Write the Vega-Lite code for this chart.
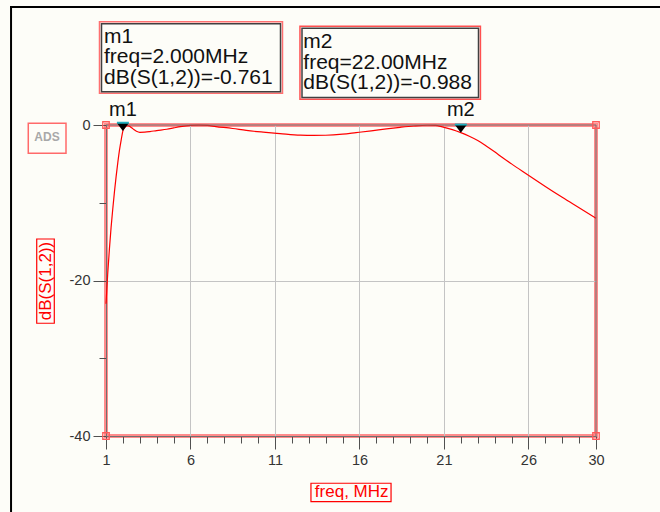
{
  "$schema": "https://vega.github.io/schema/vega-lite/v6.json",
  "width": 490,
  "height": 311,
  "autosize": "none",
  "padding": {"left": 106, "top": 125, "right": 64, "bottom": 76},
  "background": "#fdfdf8",
  "config": {
    "view": {"stroke": "#ff8c8c", "strokeWidth": 4},
    "font": "Liberation Sans",
    "text": {"font": "Liberation Sans"}
  },
  "data": {"values": [{}]},
  "datasets": {
    "curve": [
      {"freq": 1.0, "db": -23.0},
      {"freq": 1.1, "db": -19.2},
      {"freq": 1.2, "db": -16.0},
      {"freq": 1.3, "db": -13.2},
      {"freq": 1.4, "db": -10.8},
      {"freq": 1.5, "db": -8.6},
      {"freq": 1.6, "db": -6.6},
      {"freq": 1.7, "db": -4.8},
      {"freq": 1.8, "db": -3.2},
      {"freq": 1.9, "db": -1.9},
      {"freq": 2.0, "db": -0.761},
      {"freq": 2.1, "db": -0.33},
      {"freq": 2.2, "db": -0.12},
      {"freq": 2.3, "db": -0.08},
      {"freq": 2.45, "db": -0.25},
      {"freq": 2.6, "db": -0.5},
      {"freq": 2.8, "db": -0.8},
      {"freq": 3.0, "db": -0.94},
      {"freq": 3.3, "db": -0.92},
      {"freq": 3.6, "db": -0.85},
      {"freq": 4.0, "db": -0.72},
      {"freq": 4.6, "db": -0.55},
      {"freq": 5.0, "db": -0.38},
      {"freq": 5.4, "db": -0.21},
      {"freq": 6.0, "db": -0.05},
      {"freq": 6.5, "db": -0.02},
      {"freq": 7.0, "db": -0.06},
      {"freq": 7.5, "db": -0.2},
      {"freq": 8.5, "db": -0.45},
      {"freq": 9.3, "db": -0.7},
      {"freq": 10.3, "db": -0.92},
      {"freq": 11.3, "db": -1.1},
      {"freq": 12.5, "db": -1.3},
      {"freq": 13.3, "db": -1.34},
      {"freq": 14.0, "db": -1.32},
      {"freq": 15.0, "db": -1.18},
      {"freq": 15.8, "db": -0.98},
      {"freq": 16.7, "db": -0.75},
      {"freq": 17.6, "db": -0.5},
      {"freq": 18.4, "db": -0.3},
      {"freq": 19.2, "db": -0.13},
      {"freq": 20.0, "db": -0.03},
      {"freq": 20.5, "db": -0.06},
      {"freq": 20.9, "db": -0.25},
      {"freq": 21.5, "db": -0.6},
      {"freq": 22.0, "db": -0.988},
      {"freq": 22.5, "db": -1.45},
      {"freq": 23.0, "db": -2.0},
      {"freq": 23.5, "db": -2.7},
      {"freq": 24.0, "db": -3.45},
      {"freq": 24.5, "db": -4.25},
      {"freq": 25.0, "db": -5.0},
      {"freq": 26.0, "db": -6.45},
      {"freq": 27.0, "db": -7.9},
      {"freq": 28.0, "db": -9.3},
      {"freq": 29.0, "db": -10.65},
      {"freq": 30.0, "db": -12.0}
    ],
    "markers": [
      {"name": "m1", "freq": 2.0, "db": -0.761},
      {"name": "m2", "freq": 22.0, "db": -0.988}
    ],
    "corners": [
      {"freq": 1, "db": 0},
      {"freq": 30, "db": 0},
      {"freq": 1, "db": -40},
      {"freq": 30, "db": -40}
    ]
  },
  "resolve": {"axis": {"x": "independent", "y": "independent"}},
  "layer": [
    {
      "data": {"name": "curve"},
      "mark": {"type": "line", "color": "#ff0000", "strokeWidth": 1.2, "interpolate": "monotone"},
      "encoding": {
        "x": {
          "field": "freq", "type": "quantitative",
          "scale": {"domain": [1, 30], "nice": false, "zero": false},
          "axis": {
            "title": null,
            "orient": "bottom",
            "values": [1,2,3,4,5,6,7,8,9,10,11,12,13,14,15,16,17,18,19,20,21,22,23,24,25,26,27,28,29,30],
            "labelExpr": "(datum.value - 1) % 5 === 0 || datum.value === 30 ? '' + datum.value : ''",
            "tickSize": {"condition": {"test": "(datum.value - 1) % 5 === 0 || datum.value === 30", "value": 13}, "value": 7},
            "grid": true,
            "gridColor": "#c4c4c4",
            "gridOpacity": {"condition": {"test": "(datum.value - 1) % 5 === 0 && datum.value > 1 && datum.value < 30", "value": 1}, "value": 0},
            "domainColor": "#707070",
            "tickColor": "#505050",
            "labelFontSize": 14.5,
            "labelColor": "#333333",
            "labelPadding": 4,
            "labelFlush": false,
            "labelOverlap": false
          }
        },
        "y": {
          "field": "db", "type": "quantitative",
          "scale": {"domain": [-40, 0], "nice": false, "zero": false},
          "axis": {
            "title": null,
            "orient": "left",
            "values": [-40, -30, -20, -10, 0],
            "labelExpr": "datum.value % 20 === 0 ? '' + datum.value : ''",
            "tickSize": {"condition": {"test": "datum.value % 20 === 0", "value": 13}, "value": 7},
            "grid": true,
            "gridColor": "#c4c4c4",
            "gridOpacity": {"condition": {"test": "datum.value === -20", "value": 1}, "value": 0},
            "domainColor": "#707070",
            "tickColor": "#505050",
            "labelFontSize": 14.5,
            "labelColor": "#333333",
            "labelPadding": 3,
            "labelFlush": false,
            "labelOverlap": false
          }
        }
      }
    },
    {
      "mark": {"type": "rule", "color": "#707070", "strokeWidth": 1},
      "encoding": {
        "x": {"datum": 30, "type": "quantitative", "axis": null},
        "y": {"datum": -40, "type": "quantitative", "axis": null},
        "y2": {"datum": 0}
      }
    },
    {
      "mark": {"type": "rule", "color": "#707070", "strokeWidth": 1},
      "encoding": {
        "x": {"datum": 1, "type": "quantitative", "axis": null},
        "x2": {"datum": 30},
        "y": {"datum": 0, "type": "quantitative", "axis": null}
      }
    },
    {
      "data": {"name": "corners"},
      "mark": {"type": "point", "shape": "square", "size": 42, "filled": false, "stroke": "#ff5a5a", "strokeWidth": 1.3, "opacity": 1},
      "encoding": {
        "x": {"field": "freq", "type": "quantitative", "axis": null},
        "y": {"field": "db", "type": "quantitative", "axis": null}
      }
    },
    {
      "mark": {"type": "rule", "color": "#000000", "strokeWidth": 2},
      "encoding": {
        "x": {"datum": -4.68, "type": "quantitative", "axis": null},
        "x2": {"datum": 34},
        "y": {"datum": 15.18, "type": "quantitative", "axis": null}
      }
    },
    {
      "mark": {"type": "rule", "color": "#000000", "strokeWidth": 2},
      "encoding": {
        "x": {"datum": -4.62, "type": "quantitative", "axis": null},
        "y": {"datum": 15.3, "type": "quantitative", "axis": null},
        "y2": {"datum": -51}
      }
    },
    {
      "mark": {"type": "rect", "fill": null, "fillOpacity": 0, "stroke": "#ff6a6a", "strokeWidth": 1.5},
      "encoding": {
        "x": {"datum": -3.6, "type": "quantitative", "axis": null},
        "x2": {"datum": -1.367},
        "y": {"datum": 0.22, "type": "quantitative", "axis": null},
        "y2": {"datum": -3.64}
      }
    },
    {
      "mark": {"type": "text", "text": "ADS", "fontSize": 12, "fontWeight": "bold", "color": "#a8a8a8", "align": "center", "baseline": "middle"},
      "encoding": {
        "x": {"datum": -2.49, "type": "quantitative", "axis": null},
        "y": {"datum": -1.54, "type": "quantitative", "axis": null}
      }
    },
    {
      "mark": {"type": "rect", "fill": null, "fillOpacity": 0, "stroke": "#ff0000", "strokeWidth": 1.2},
      "encoding": {
        "x": {"datum": -3.1, "type": "quantitative", "axis": null},
        "x2": {"datum": -2.06},
        "y": {"datum": -14.66, "type": "quantitative", "axis": null},
        "y2": {"datum": -25.5}
      }
    },
    {
      "mark": {"type": "text", "text": "dB(S(1,2))", "fontSize": 17, "color": "#ff0000", "angle": 270, "align": "center", "baseline": "middle"},
      "encoding": {
        "x": {"datum": -2.58, "type": "quantitative", "axis": null},
        "y": {"datum": -20.06, "type": "quantitative", "axis": null}
      }
    },
    {
      "mark": {"type": "rect", "fill": null, "fillOpacity": 0, "stroke": "#ff0000", "strokeWidth": 1.2},
      "encoding": {
        "x": {"datum": 13.13, "type": "quantitative", "axis": null},
        "x2": {"datum": 17.87},
        "y": {"datum": -46.08, "type": "quantitative", "axis": null},
        "y2": {"datum": -48.45}
      }
    },
    {
      "mark": {"type": "text", "text": "freq, MHz", "fontSize": 17, "color": "#ff0000", "align": "center", "baseline": "middle"},
      "encoding": {
        "x": {"datum": 15.54, "type": "quantitative", "axis": null},
        "y": {"datum": -47.16, "type": "quantitative", "axis": null}
      }
    },
    {
      "mark": {"type": "rect", "fill": null, "fillOpacity": 0, "stroke": "#ff7070", "strokeWidth": 1.5},
      "encoding": {
        "x": {"datum": 0.615, "type": "quantitative", "axis": null},
        "x2": {"datum": 11.446},
        "y": {"datum": 13.27, "type": "quantitative", "axis": null},
        "y2": {"datum": 4.08}
      }
    },
    {
      "mark": {"type": "rect", "fill": null, "fillOpacity": 0, "stroke": "#404040", "strokeWidth": 1.5},
      "encoding": {
        "x": {"datum": 0.734, "type": "quantitative", "axis": null},
        "x2": {"datum": 11.328},
        "y": {"datum": 13.02, "type": "quantitative", "axis": null},
        "y2": {"datum": 4.28}
      }
    },
    {
      "mark": {"type": "text", "text": ["m1", "freq=2.000MHz", "dB(S(1,2))=-0.761"], "fontSize": 21, "lineHeight": 20.8, "color": "#111111", "align": "left", "baseline": "middle"},
      "encoding": {
        "x": {"datum": 0.882, "type": "quantitative", "axis": null},
        "y": {"datum": 11.36, "type": "quantitative", "axis": null}
      }
    },
    {
      "mark": {"type": "rect", "fill": null, "fillOpacity": 0, "stroke": "#ff5050", "strokeWidth": 1.5},
      "encoding": {
        "x": {"datum": 12.48, "type": "quantitative", "axis": null},
        "x2": {"datum": 23.16},
        "y": {"datum": 12.71, "type": "quantitative", "axis": null},
        "y2": {"datum": 3.31}
      }
    },
    {
      "mark": {"type": "rect", "fill": null, "fillOpacity": 0, "stroke": "#404040", "strokeWidth": 1.5},
      "encoding": {
        "x": {"datum": 12.6, "type": "quantitative", "axis": null},
        "x2": {"datum": 23.046},
        "y": {"datum": 12.44, "type": "quantitative", "axis": null},
        "y2": {"datum": 3.54}
      }
    },
    {
      "mark": {"type": "text", "text": ["m2", "freq=22.00MHz", "dB(S(1,2))=-0.988"], "fontSize": 21, "lineHeight": 20.8, "color": "#111111", "align": "left", "baseline": "middle"},
      "encoding": {
        "x": {"datum": 12.677, "type": "quantitative", "axis": null},
        "y": {"datum": 10.71, "type": "quantitative", "axis": null}
      }
    },
    {
      "data": {"name": "markers"},
      "mark": {"type": "point", "shape": "M-1,-1.333L1,-1.333L0,0Z", "size": 144, "filled": true, "color": "#000000", "opacity": 1},
      "encoding": {
        "x": {"field": "freq", "type": "quantitative", "axis": null},
        "y": {"field": "db", "type": "quantitative", "axis": null}
      }
    },
    {
      "data": {"name": "markers"},
      "mark": {"type": "point", "shape": "M-1,-1.36L1,-1.36", "size": 144, "filled": false, "stroke": "#20b0c0", "strokeWidth": 2, "opacity": 1},
      "encoding": {
        "x": {"field": "freq", "type": "quantitative", "axis": null},
        "y": {"field": "db", "type": "quantitative", "axis": null}
      }
    },
    {
      "data": {"name": "markers"},
      "mark": {"type": "text", "fontSize": 20, "color": "#111111", "align": "center", "baseline": "middle"},
      "encoding": {
        "x": {"field": "freq", "type": "quantitative", "axis": null},
        "y": {"datum": 1.93, "type": "quantitative", "axis": null},
        "text": {"field": "name", "type": "nominal"}
      }
    }
  ]
}
